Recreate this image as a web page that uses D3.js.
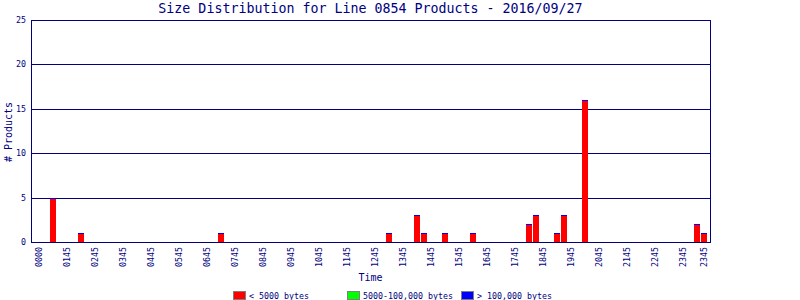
<!DOCTYPE html>
<html>
<head>
<meta charset="utf-8">
<script src="https://cdn.jsdelivr.net/npm/d3@7"></script>
<style>
  body { margin: 0; background: #fff; }
  svg { display: block; }
  text { font-family: "DejaVu Sans Mono", monospace; fill: #000080; }
</style>
</head>
<body>
<div id="chart"></div>
<script>
// 96 quarter-hour slots; only slots with products are listed
var slotCount = 96;
var barSlots    = [2, 6, 26, 50, 54, 55, 58, 62, 70, 71, 74, 75, 78, 94, 95];
var smallCounts = [5, 1, 1, 1, 3, 1, 1, 1, 2, 3, 1, 3, 16, 2, 1];
var midCounts   = [0, 0, 0, 0, 0, 0, 0, 0, 0, 0, 0, 0, 0, 0, 0];
var largeCounts = [0, 0, 0, 0, 0, 0, 0, 0, 0, 0, 0, 0, 0, 0, 0];

var tickSlots  = [0, 4, 8, 12, 16, 20, 24, 28, 32, 36, 40, 44, 48, 52, 56, 60, 64, 68, 72, 76, 80, 84, 88, 92, 95];
var tickLabels = ["0000", "0145", "0245", "0345", "0445", "0545", "0645", "0745", "0845", "0945", "1045", "1145",
                  "1245", "1345", "1445", "1545", "1645", "1745", "1845", "1945", "2045", "2145", "2245", "2345", "2345"];
var yTicks = [0, 5, 10, 15, 20, 25];

var seriesNames  = ["< 5000 bytes", "5000-100,000 bytes", "> 100,000 bytes"];
var seriesColors = ["#ff0000", "#00ff00", "#0000ff"];

var navy = "#000080";
var width = 800, height = 300;
var plotL = 31, plotR = 710, plotT = 20, plotB = 242;

var svg = d3.select("#chart").append("svg")
  .attr("width", width)
  .attr("height", height)
  .attr("shape-rendering", "crispEdges");

var x = d3.scaleBand()
  .domain(d3.range(slotCount))
  .range([35.5, 707.5])
  .paddingInner(0.14)
  .paddingOuter(0.07);

var y = d3.scaleLinear().domain([0, 25]).range([plotB, plotT]);

// grid lines
svg.selectAll(".grid")
  .data(yTicks.slice(1))
  .enter().append("line")
    .attr("x1", plotL).attr("x2", plotR)
    .attr("y1", d => Math.round(y(d)) + 0.5)
    .attr("y2", d => Math.round(y(d)) + 0.5)
    .attr("stroke", navy);

// stacked bars (zero-height segments still leave a 1px line, like the original)
var rows = barSlots.map(function(s, i) {
  return { slot: s, values: [smallCounts[i], midCounts[i], largeCounts[i]] };
});
rows.forEach(function(r) {
  var cum = 0;
  r.values.forEach(function(v, k) {
    var y0 = Math.round(y(cum)), y1 = Math.round(y(cum + v));
    svg.append("rect")
      .attr("x", Math.round(x(r.slot)))
      .attr("y", y1)
      .attr("width", Math.round(x.bandwidth()))
      .attr("height", Math.max(1, y0 - y1))
      .attr("fill", seriesColors[k]);
    cum += v;
  });
});

// frame
svg.append("rect")
  .attr("x", plotL + 0.5).attr("y", plotT + 0.5)
  .attr("width", plotR - plotL).attr("height", plotB - plotT)
  .attr("fill", "none")
  .attr("stroke", navy);

// y tick labels
svg.selectAll(".ylab")
  .data(yTicks)
  .enter().append("text")
    .attr("x", 26)
    .attr("y", d => y(d) + 3)
    .attr("text-anchor", "end")
    .attr("font-size", "8.3px")
    .text(d => d);

// x tick labels
svg.selectAll(".xlab")
  .data(tickSlots)
  .enter().append("text")
    .attr("transform", d => "translate(" + (x(d) + x.bandwidth() / 2 + 2.5) + ",247) rotate(-90)")
    .attr("text-anchor", "end")
    .attr("font-size", "8.3px")
    .text((d, i) => tickLabels[i]);

// title and axis titles
svg.append("text")
  .attr("x", (plotL + plotR) / 2).attr("y", 13)
  .attr("text-anchor", "middle")
  .attr("font-size", "13.3px")
  .text("Size Distribution for Line 0854 Products - 2016/09/27");

svg.append("text")
  .attr("x", (plotL + plotR) / 2).attr("y", 281)
  .attr("text-anchor", "middle")
  .attr("font-size", "10px")
  .text("Time");

svg.append("text")
  .attr("transform", "translate(12,132) rotate(-90)")
  .attr("text-anchor", "middle")
  .attr("font-size", "10px")
  .text("# Products");

// legend
var legendX = [233, 347, 461];
var legend = svg.selectAll(".leg")
  .data(seriesNames)
  .enter().append("g")
    .attr("transform", (d, i) => "translate(" + legendX[i] + ",291)");
legend.append("rect")
  .attr("x", 0.5).attr("y", 0.5)
  .attr("width", 12).attr("height", 8)
  .attr("fill", (d, i) => seriesColors[i])
  .attr("stroke", "#808080");
legend.append("text")
  .attr("x", 16).attr("y", 7.5)
  .attr("font-size", "8.3px")
  .text(d => d);
</script>
</body>
</html>
